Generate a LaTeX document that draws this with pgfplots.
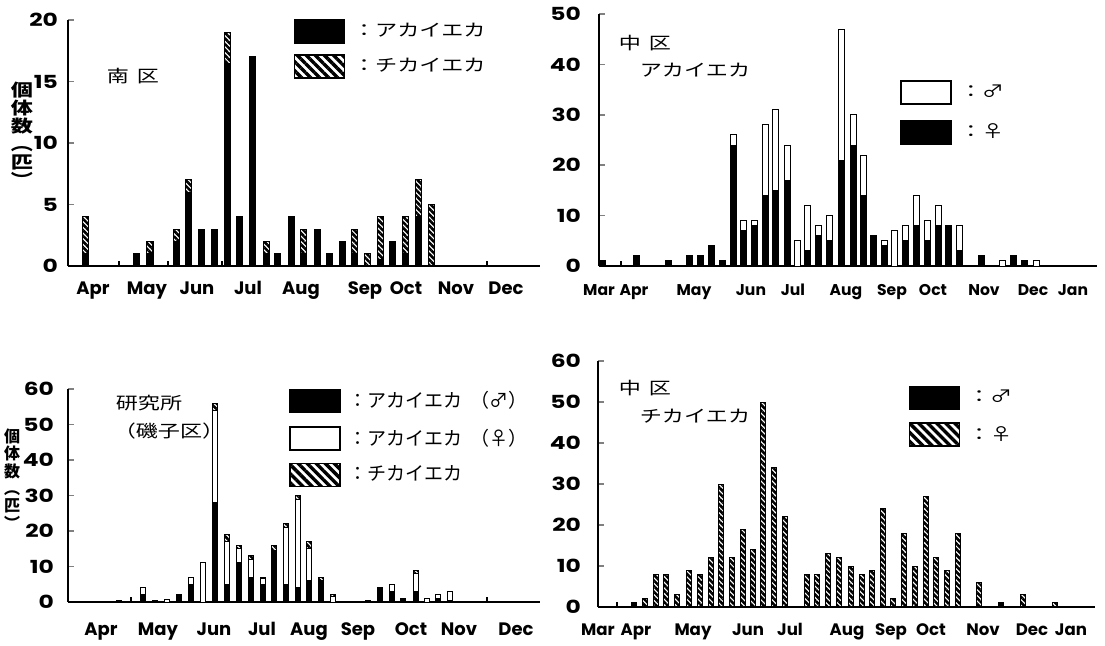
\documentclass[border=0pt]{standalone}
\usepackage{pgfplots}
\pgfplotsset{compat=1.18}
\usepackage{pgfplotstable}
\usetikzlibrary{patterns.meta}
\usepackage{fontspec}
\setmainfont{Poppins}
\newfontfamily\numfont{Poppins}[FakeStretch=1.3]
\newfontfamily\cjk{Noto Sans CJK JP}[FakeStretch=1.3]
\newfontfamily\cjkn{Noto Sans CJK JP}

% Panel 1: south ward (black = akaieka, hatch = chikaieka)
\pgfplotstableread{
x k h
86 1 3
137 1 0
150 1 1
176 2 1
188 6 1
201 3 0
214 3 0
227 16.5 2.5
239 4 0
252 17 0
266 1 1
277 1 0
291 4 0
303 1 2
317 3 0
329 1 0
342 2 0
354 1 2
367 0 1
380 0.5 3.5
392 2 0
405 1 3
418 4 3
431 0 5
}\tabA

% Panel 2: naka ward akaieka (black = female, white = male)
\pgfplotstableread{
x k w
602 1 0
636 2 0
668 1 0
689 2 0
700 2 0
711 4 0
722 1 0
733 24 2
743 7 2
754 8 1
765 14 14
775 15 16
787 17 7
797 0 5
807 3 9
818 6 2
829 5 5
841 21 26
853 24 6
863 14 8
873 6 0
884 4 1
894 0 7
905 5 3
916 8 6
927 5 4
938 8 4
948 8 0
959 3 5
981 2 0
1002 0 1
1013 2 0
1024 1 0
1036 0 1
}\tabB

% Panel 3: institute (black = male, white = female, hatch = chikaieka)
\pgfplotstableread{
x k w h
119 0.5 0 0
143 2 2 0
155 0.5 0 0
167 0 0.7 0
179 2 0 0
191 5 2 0
203 0 11 0
215 28 26 2
227 5 12 2
239 11 4 1
251 7 5 1
263 5 1.5 0.5
274 14.5 0 1.5
286 5 16 1
298 4 25 1
309 6 9 2
321 6 0 1
333 0 1.5 0.5
368 0.5 0 0
380 4 0 0
392 3 2 0
403 1 0 0
416 3 5 1
427 0 1 0
438 1 1 0
450 0.5 2.5 0
}\tabC

% Panel 4: naka ward chikaieka (black = male, hatch = female)
\pgfplotstableread{
x k h
634 1 0
645 0 2
656 0 8
666 0 8
677 0 3
689 0 9
700 0 8
711 0 12
721 0 30
732 0 12
743 0 19
753 0 14
763 0 50
774 0 34
785 0 22
807 0 8
817 0 8
828 0 13
839 0 12
851 0 10
862 0 8
872 0 9
883 0 24
893 0 2
904 0 18
915 0 10
926 0 27
936 0 12
947 0 9
958 0 18
979 0 6
1001 1 0
1023 0 3
1055 0 1
}\tabD

\tikzset{
  blackbar/.style={fill=black, draw=black},
  whitebar/.style={fill=white, draw=black},
  hatchbar/.style={draw=black, pattern={Lines[angle=-45,distance=2pt,line width=1.3pt]}, pattern color=black},
  hatchleg/.style={draw=black, pattern={Lines[angle=-45,distance=3.2pt,line width=1.7pt]}, pattern color=black},
}

\newcommand{\lgA}{\cjk\fontsize{8.5}{10}\selectfont}
\newcommand{\lgB}{\cjkn\fontsize{9.5}{10}\selectfont}

\pgfplotsset{
  panel/.style={
    scale only axis,
    anchor=south west,
    ybar stacked,
    ymin=0,
    enlargelimits=false,
    clip=false,
    axis x line=bottom,
    axis y line=left,
    axis line style={-, line width=0.8pt},
    tick align=inside,
    major tick length=3pt,
    ytick style={line width=0.8pt},
    xtick style={draw=none},
    extra x tick labels={},
    extra x tick style={xtick style={draw=black, line width=0.8pt}, major tick length=2.5pt},
    /pgf/number format/assume math mode=true,
    every axis plot/.append style={line width=0.5pt},
    legend image code/.code={\draw[##1, line width=0.8pt] (0pt,-5.75pt) rectangle (25pt,5.75pt);},
    legend cell align=left,
    legend style={draw=none, fill=none, inner sep=0pt, column sep=2pt, anchor=north west},
  }
}

\begin{document}
\begin{tikzpicture}
\useasboundingbox (0,0) rectangle (552.5pt,322.5pt);

% ---------- Panel 1 ----------
\begin{axis}[panel,
  at={(34pt,189.5pt)}, width=236pt, height=123pt,
  xmin=68, xmax=540, ymax=20, ytick={0,5,10,15,20},
  yticklabel style={font=\numfont\bfseries\fontsize{9}{10}\selectfont, xshift=-1.5pt},
  xtick={93,147,197,248,301,365,406,456,506},
  xticklabels={Apr,May,Jun,Jul,Aug,Sep,Oct,Nov,Dec},
  xticklabel style={anchor=base, yshift=-14.25pt, font=\bfseries\fontsize{9}{10}\selectfont},
  extra x ticks={119,168,222,487},
  bar width=6,
  legend style={at={(0.477,1.004)}, row sep=5pt},
]
\addlegendimage{blackbar}\addlegendentry{\lgA ：アカイエカ}
\addlegendimage{hatchleg}\addlegendentry{\lgA ：チカイエカ}
\addplot[blackbar] table[x=x,y=k]{\tabA};
\addplot[hatchbar] table[x=x,y=h]{\tabA};
\end{axis}

% ---------- Panel 2 ----------
\begin{axis}[panel,
  at={(299.5pt,189.5pt)}, width=249pt, height=126pt,
  xmin=599, xmax=1097, ymax=50, ytick={0,10,20,30,40,50},
  yticklabel style={font=\numfont\bfseries\fontsize{9}{10}\selectfont, xshift=-5.5pt},
  xtick={599,634,694,751,793,846,892,933,984,1033,1073},
  xticklabels={Mar,Apr,May,Jun,Jul,Aug,Sep,Oct,Nov,Dec,Jan},
  xticklabel style={anchor=base, yshift=-14.5pt, font=\bfseries\fontsize{7.8}{9}\selectfont},
  extra x ticks={621},
  bar width=6,
  legend style={at={(0.604,0.738)}, row sep=7.5pt},
]
\addlegendimage{whitebar}\addlegendentry{\lgA ：♂}
\addlegendimage{blackbar}\addlegendentry{\lgA ：♀}
\addplot[blackbar] table[x=x,y=k]{\tabB};
\addplot[whitebar] table[x=x,y=w]{\tabB};
\end{axis}

% ---------- Panel 3 ----------
\begin{axis}[panel,
  at={(34pt,21.5pt)}, width=236pt, height=106.5pt,
  xmin=68, xmax=540, ymax=60, ytick={0,10,20,30,40,50,60},
  yticklabel style={font=\numfont\bfseries\fontsize{9}{10}\selectfont, xshift=-3.5pt},
  xtick={101,158,214,262,309,358,411,459,516},
  xticklabels={Apr,May,Jun,Jul,Aug,Sep,Oct,Nov,Dec},
  xticklabel style={anchor=base, yshift=-16.5pt, font=\bfseries\fontsize{9}{10}\selectfont},
  extra x ticks={131,487},
  bar width=5.5,
  legend style={at={(0.468,1.009)}, row sep=5pt},
]
\addlegendimage{blackbar}\addlegendentry{\lgB ：アカイエカ\hspace{4pt}（♂）}
\addlegendimage{whitebar}\addlegendentry{\lgB ：アカイエカ\hspace{4pt}（♀）}
\addlegendimage{hatchleg}\addlegendentry{\lgB ：チカイエカ}
\addplot[blackbar] table[x=x,y=k]{\tabC};
\addplot[whitebar] table[x=x,y=w]{\tabC};
\addplot[hatchbar] table[x=x,y=h]{\tabC};
\end{axis}

% ---------- Panel 4 ----------
\begin{axis}[panel,
  at={(299pt,19pt)}, width=248.5pt, height=123pt,
  xmin=598, xmax=1095, ymax=60, ytick={0,10,20,30,40,50,60},
  yticklabel style={font=\numfont\bfseries\fontsize{9}{10}\selectfont, xshift=-5pt},
  xtick={598,636,693,748,790,847,891,931,983,1032,1071},
  xticklabels={Mar,Apr,May,Jun,Jul,Aug,Sep,Oct,Nov,Dec,Jan},
  xticklabel style={anchor=base, yshift=-14pt, font=\bfseries\fontsize{8.3}{10}\selectfont},
  extra x ticks={617},
  bar width=5.5,
  legend style={at={(0.624,0.902)}, row sep=6pt},
]
\addlegendimage{blackbar}\addlegendentry{\lgA ：♂}
\addlegendimage{hatchleg}\addlegendentry{\lgA ：♀}
\addplot[blackbar] table[x=x,y=k]{\tabD};
\addplot[hatchbar] table[x=x,y=h]{\tabD};
\end{axis}

% ---------- titles and y labels ----------
\begin{scope}[every node/.style={inner sep=0pt, font=\cjk\fontsize{8.5}{10}\selectfont}]
\node at (66.5pt,284.5pt) {南\hspace{4pt}区};
\node at (322.5pt,300.75pt) {中\hspace{4pt}区};
\node at (347.5pt,287.5pt) {アカイエカ};
\node at (74.5pt,120.75pt) {研究所};
\node at (84.5pt,107pt) {（磯子区）};
\node at (322.5pt,128.5pt) {中\hspace{4pt}区};
\node at (347.5pt,114.5pt) {チカイエカ};
\node[align=center, font=\cjk\bfseries\fontsize{8.5}{9}\selectfont] at (11pt,255.5pt) {個\\体\\数\\︵\\匹\\︶};
\node[align=center, font=\cjkn\bfseries\fontsize{8}{8.7}\selectfont] at (6pt,83pt) {個\\体\\数\\︵\\匹\\︶};
\end{scope}
\end{tikzpicture}
\end{document}
